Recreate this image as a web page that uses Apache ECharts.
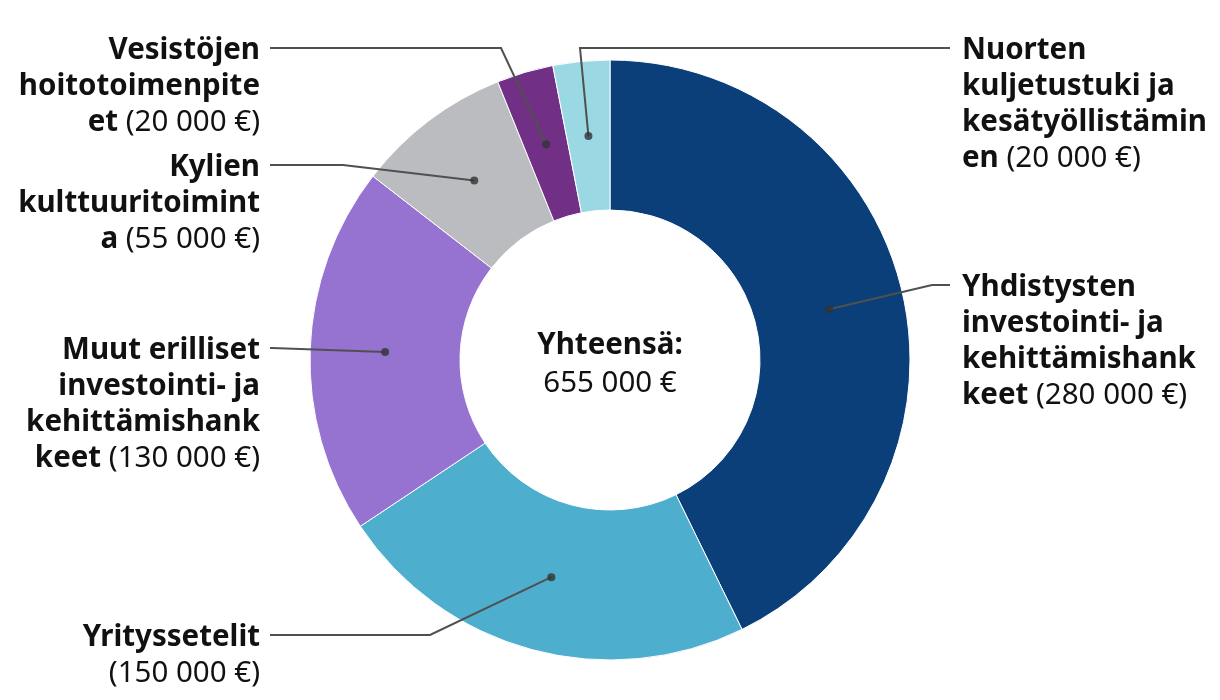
<!DOCTYPE html>
<html><head><meta charset="utf-8">
<script src="https://cdn.jsdelivr.net/npm/echarts@6/dist/echarts.min.js"></script>
<style>html,body{margin:0;padding:0;background:#fff}#c{width:1220px;height:700px}</style>
</head><body><div id="c"></div>
<script>
// ---- data ----
const categories = [
  'Yhdistysten investointi- ja kehittämishankkeet',
  'Yrityssetelit',
  'Muut erilliset investointi- ja kehittämishankkeet',
  'Kylien kulttuuritoiminta',
  'Vesistöjen hoitotoimenpiteet',
  'Nuorten kuljetustuki ja kesätyöllistäminen'
];
const values = [280000, 150000, 130000, 55000, 20000, 20000];
// wrapped label text as shown in the chart
const labelNames = [
  'Yhdistysten\ninvestointi- ja\nkehittämishank\nkeet',
  'Yrityssetelit\n',
  'Muut erilliset\ninvestointi- ja\nkehittämishank\nkeet',
  'Kylien\nkulttuuritoimint\na',
  'Vesistöjen\nhoitotoimenpite\net',
  'Nuorten\nkuljetustuki ja\nkesätyöllistämin\nen'
];
const totalTitle = 'Yhteensä:';
const colors = ['#0b3f7a', '#4eaecd', '#9672d1', '#bbbcc0', '#722f86', '#9ad8e4'];

// ---- layout (label placement) ----
const labelSide = ['right', 'left', 'left', 'left', 'left', 'right'];
const labelLineY = [285, 635, 348, 165, 48, 48];
const elbowX = [932, 430, 272, 343, 501, 580];
const CX = 610, CY = 360, R_IN = 150, R_OUT = 300, R_DOT = 225;
const LEFT_TEXT_X = 260, RIGHT_TEXT_X = 962, LEFT_LINE_END = 270, RIGHT_LINE_END = 950;
const FS = 29.5, LH = 36, TEXT_SHIFT = 3;

const fmt = n => String(n).replace(/\B(?=(\d{3})+(?!\d))/g, ' ') + ' €';
const total = values.reduce((a, b) => a + b, 0);
let acc = 0;
const mids = values.map(v => { const m = acc + v / 2; acc += v; return m; });
const isRight = labelSide.map(s => s === 'right');

function buildLabel(i) {
  const s = isRight[i] ? 'L' : 'R';
  const lines = labelNames[i].split('\n');
  const last = lines.pop();
  const parts = lines.map(l => '{b' + s + '|' + l + '}');
  const val = '(' + fmt(values[i]) + ')';
  parts.push(last ? '{b' + s + '|' + last + '}{n' + s + '| ' + val + '}' : '{n' + s + '|' + val + '}');
  return parts.join('\n');
}

const FONT = '"Noto Sans", "Open Sans", sans-serif';
const rich = {};
['L', 'R'].forEach(s => {
  const al = s === 'L' ? 'left' : 'right';
  rich['b' + s] = { fontFamily: FONT, fontSize: FS, fontWeight: 'bold', color: '#111', lineHeight: LH, align: al };
  rich['n' + s] = { fontFamily: FONT, fontSize: FS, fontWeight: 'normal', color: '#111', lineHeight: LH, align: al };
});

const chart = echarts.init(document.getElementById('c'), null, { renderer: 'canvas' });
chart.setOption({
  animation: false,
  backgroundColor: '#fff',
  title: {
    text: '{b|' + totalTitle + '}\n{n|' + fmt(total) + '}',
    left: 'center', top: 322,
    textStyle: {
      rich: {
        b: { fontFamily: FONT, fontSize: FS, fontWeight: 'bold', color: '#111', lineHeight: 38, align: 'center' },
        n: { fontFamily: FONT, fontSize: FS, fontWeight: 'normal', color: '#111', lineHeight: 38, align: 'center' }
      }
    }
  },
  polar: { center: [CX, CY], radius: R_OUT },
  angleAxis: { type: 'value', min: 0, max: total, startAngle: 90, clockwise: true, show: false },
  radiusAxis: { type: 'value', min: 0, max: R_OUT, show: false },
  series: [
    {
      type: 'pie',
      center: [CX, CY],
      radius: [R_IN, R_OUT],
      startAngle: 90,
      clockwise: true,
      silent: true,
      avoidLabelOverlap: false,
      label: { show: false },
      labelLine: { show: false },
      emphasis: { disabled: true },
      itemStyle: { borderColor: '#fff', borderWidth: 1 },
      data: values.map((v, i) => ({ name: categories[i], value: v, itemStyle: { color: colors[i] } }))
    },
    {
      type: 'pie',
      center: [CX, CY],
      radius: [0, R_DOT],
      startAngle: 90,
      clockwise: true,
      silent: true,
      z: 3,
      avoidLabelOverlap: false,
      emphasis: { disabled: true },
      itemStyle: { color: 'rgba(0,0,0,0)', borderWidth: 0 },
      label: { show: true, position: 'outside', rich: rich, fontFamily: FONT, fontSize: FS, color: '#111' },
      labelLine: { show: true, length: 10, length2: 10, lineStyle: { color: '#505050', width: 2 } },
      labelLayout: function (p) {
        const i = p.dataIndex;
        const r = isRight[i];
        const start = (p.labelLinePoints && p.labelLinePoints[0]) || [CX, CY];
        const y = labelLineY[i];
        return {
          x: r ? RIGHT_TEXT_X : LEFT_TEXT_X,
          y: y - LH / 2 + TEXT_SHIFT,
          align: r ? 'left' : 'right',
          verticalAlign: 'top',
          labelLinePoints: [start, [elbowX[i], y], [r ? RIGHT_LINE_END : LEFT_LINE_END, y]]
        };
      },
      data: values.map((v, i) => ({
        name: categories[i], value: v,
        label: { formatter: buildLabel(i), align: isRight[i] ? 'left' : 'right' }
      }))
    },
    {
      type: 'scatter',
      coordinateSystem: 'polar',
      silent: true,
      z: 5,
      symbol: 'circle',
      symbolSize: 8,
      itemStyle: { color: '#333' },
      data: mids.map(m => [R_DOT, m])
    }
  ]
});
</script>
</body></html>
